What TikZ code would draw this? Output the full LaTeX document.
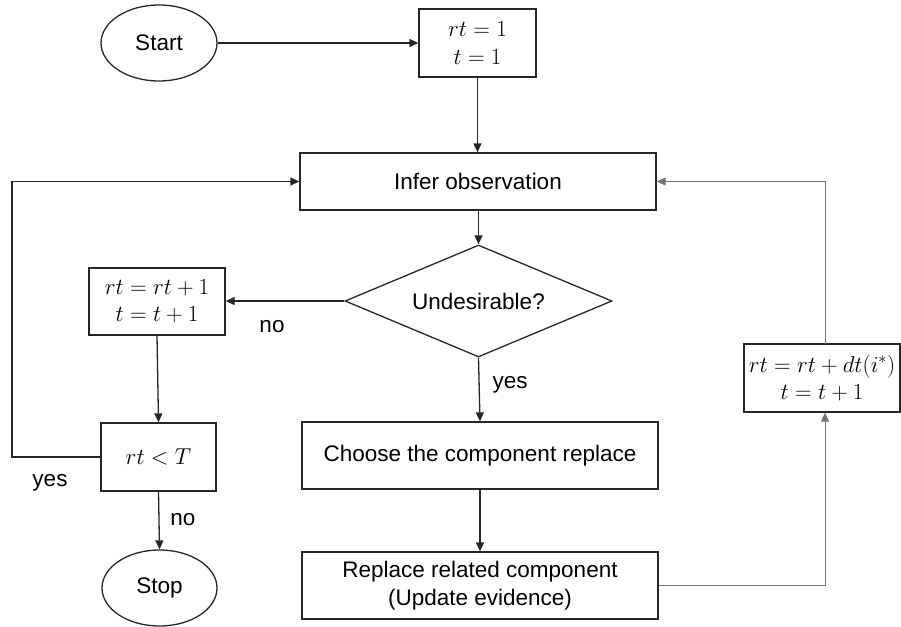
\RequirePackage{fix-cm}
\documentclass[tikz,border=0pt]{standalone}
\usepackage{fontspec}
\setmainfont{Liberation Sans}
\usetikzlibrary{shapes.geometric,arrows.meta}
\begin{document}
\begin{tikzpicture}[x=1pt,y=-1pt,
  every node/.style={font=\fontsize{22.5}{28}\selectfont},
  mathtxt/.style={font=\fontsize{23}{27.5}\selectfont},
  base/.style={draw=black!85, line width=1.3pt, inner sep=0pt, align=center},
  stepbox/.style={base, rectangle},
  term/.style={base, ellipse},
  decide/.style={base, diamond, aspect=2.4},
  lbl/.style={inner sep=0pt},
  conn/.style={draw=black!85, line width=1.3pt, -{Triangle[length=9pt,width=8pt]}},
  gconn/.style={draw=black!55, line width=1pt, -{Triangle[length=9pt,width=8pt]}}
]
\useasboundingbox (0,0) rectangle (901,626);

\node[term, minimum width=116pt, minimum height=76pt] (start) at (159,43) {Start};
\node[stepbox, mathtxt, minimum width=117pt, minimum height=68pt] (init) at (477.5,43) {$rt=1$\\$t=1$};
\node[stepbox, minimum width=356pt, minimum height=57pt] (infer) at (478,181.5) {Infer observation};
\node[decide, minimum width=267pt, minimum height=112pt] (dec) at (478.5,301) {Undesirable?};
\node[stepbox, mathtxt, minimum width=136pt, minimum height=67pt] (rinc) at (157,301.5) {$rt=rt+1$\\$t=t+1$};
\node[stepbox, mathtxt, minimum width=115pt, minimum height=68pt] (cond) at (158.5,457) {$rt<T$};
\node[term, minimum width=115pt, minimum height=76pt] (stop) at (159.5,588) {Stop};
\node[stepbox, minimum width=356pt, minimum height=67pt] (choose) at (480,455.5) {Choose the component replace};
\node[stepbox, minimum width=356pt, minimum height=67pt] (replace) at (480,585.5) {Replace related component\\(Update evidence)};
\node[stepbox, mathtxt, minimum width=156pt, minimum height=68pt] (upd) at (822,378) {$rt=rt+dt(i^{*})$\\$t=t+1$};

\node[lbl] (lno1) at (272,327) {no};
\node[lbl] (lyes1) at (50,483) {yes};
\node[lbl] (lno2) at (183,520) {no};
\node[lbl] (lyes2) at (510,385) {yes};

\coordinate (lft) at (12,457);
\coordinate (rb) at (825,585.5);
\coordinate (rt) at (825,344);

\draw[conn] (start.east) -- (init.west |- start.east);
\draw[conn] (init.south) -- (infer.north -| init.south);
\draw[conn] (infer.south -| dec.north) -- (dec.north);
\draw[conn] (dec.west) -- (rinc.east |- dec.west);
\draw[conn] (rinc.south) -- (cond.north);
\draw[conn] (cond.west) -- (lft) |- (infer.west);
\draw[conn] (cond.south) -- (stop.north);
\draw[conn] (dec.south) -- (choose.north);
\draw[conn] (choose.south) -- (replace.north);
\draw[gconn] (replace.east) -- (rb) -- (rb |- upd.south);
\draw[gconn] (rt) |- (infer.east);
\end{tikzpicture}
\end{document}
